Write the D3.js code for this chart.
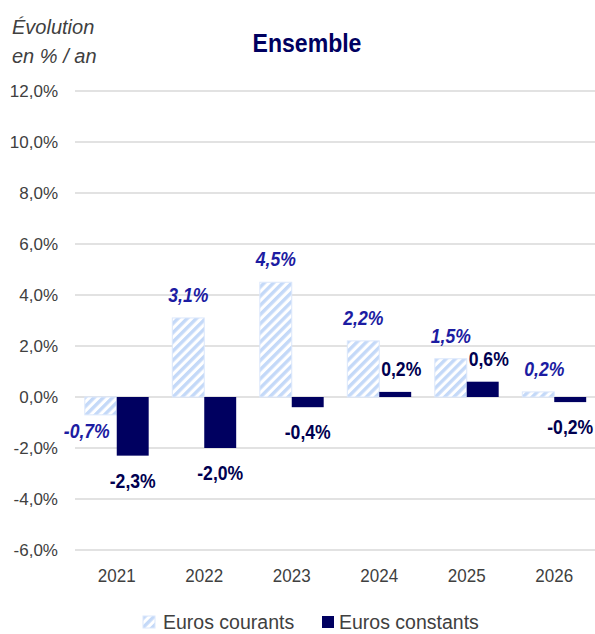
<!DOCTYPE html>
<html>
<head>
<meta charset="utf-8">
<script src="https://cdn.jsdelivr.net/npm/d3@7"></script>
<style>
  body { margin: 0; background: #fff; }
  .chart text { font-family: "Liberation Sans", Arial, sans-serif; }
</style>
</head>
<body>
<div class="chart"></div>
<script>
// chart data
var years = ["2021", "2022", "2023", "2024", "2025", "2026"];
var seriesNames = ["Euros courants", "Euros constants"];
var courants = [-0.7, 3.1, 4.5, 2.2, 1.5, 0.2];
var constants = [-2.3, -2.0, -0.4, 0.2, 0.6, -0.2];
var yTicks = [-6, -4, -2, 0, 2, 4, 6, 8, 10, 12];

var svgWidth = 595;
var svgHeight = 634;

var margin = { top: 91, right: 0, bottom: 84, left: 73 };
var height = svgHeight - margin.top - margin.bottom;

// no narrow font installed, so condensed text is squeezed horizontally
var narrow = 0.88;

function pct(v) {
  return d3.format(".1f")(v).replace(".", ",").replace("−", "-") + "%";
}

var svg = d3.select(".chart")
  .append("svg")
  .attr("width", svgWidth)
  .attr("height", svgHeight);

// hatch pattern for the "courants" series
var defs = svg.append("defs");
var pat = defs.append("pattern")
  .attr("id", "hatch")
  .attr("patternUnits", "userSpaceOnUse")
  .attr("width", 6.5)
  .attr("height", 6.5)
  .attr("patternTransform", "rotate(45)");
pat.append("rect").attr("width", 6.5).attr("height", 6.5).attr("fill", "#ffffff");
pat.append("rect").attr("width", 3.4).attr("height", 6.5).attr("fill", "#c4d9f8");

var x0 = d3.scaleBand()
  .domain(years)
  .range([margin.left, 598])
  .paddingInner(0.27)
  .paddingOuter(0.135);

var x1 = d3.scaleBand()
  .domain(seriesNames)
  .range([0, x0.bandwidth()]);

var y = d3.scaleLinear()
  .domain([-6, 12])
  .range([margin.top + height, margin.top]);

// grid lines
svg.append("g")
  .selectAll("line")
  .data(yTicks)
  .enter().append("line")
  .attr("x1", 75)
  .attr("x2", 595)
  .attr("y1", function (d) { return y(d); })
  .attr("y2", function (d) { return y(d); })
  .attr("stroke", "#d9d9d9")
  .attr("stroke-width", 1.5);

// y axis tick labels
var leftAxis = d3.axisLeft(y)
  .tickValues(yTicks)
  .tickSize(0)
  .tickPadding(0)
  .tickFormat(pct);

var yAxisG = svg.append("g")
  .attr("transform", "translate(58,0)")
  .call(leftAxis);
yAxisG.select(".domain").remove();
yAxisG.selectAll("text")
  .attr("font-size", 17)
  .attr("fill", "#404040")
  .attr("font-family", "Liberation Sans, Arial, sans-serif");

// x axis tick labels
var bottomAxis = d3.axisBottom(x0).tickSize(0).tickPadding(0);
var xAxisG = svg.append("g")
  .attr("transform", "translate(0,569)")
  .call(bottomAxis);
xAxisG.select(".domain").remove();
xAxisG.selectAll("text")
  .attr("font-size", 17)
  .attr("transform", "scale(1,1.1)")
  .attr("fill", "#404040")
  .attr("font-family", "Liberation Sans, Arial, sans-serif");

// bars
var rows = years.map(function (yr, i) {
  return { year: yr, values: [courants[i], constants[i]] };
});

function cells(d) {
  return d.values.map(function (v, j) { return { key: seriesNames[j], value: v, idx: j }; });
}

var groups = svg.append("g")
  .selectAll("g")
  .data(rows)
  .enter().append("g")
  .attr("transform", function (d) { return "translate(" + x0(d.year) + ",0)"; });

groups.selectAll("rect")
  .data(cells)
  .enter().append("rect")
  .attr("x", function (d) { return x1(d.key); })
  .attr("width", x1.bandwidth())
  .attr("y", function (d) { return y(Math.max(0, d.value)); })
  .attr("height", function (d) { return Math.abs(y(d.value) - y(0)); })
  .attr("fill", function (d) { return d.idx === 0 ? "url(#hatch)" : "#000060"; })
  .attr("stroke", function (d) { return d.idx === 0 ? "#dbe7fb" : "none"; })
  .attr("stroke-width", 1);

// value labels (small bars get their label nudged aside, like Excel does)
groups.selectAll("g.val")
  .data(cells)
  .enter().append("g")
  .attr("class", "val")
  .attr("transform", function (d) {
    var cx = x1(d.key) + x1.bandwidth() / 2;
    var cy;
    if (d.value >= 0) {
      cy = y(d.value) - 16;
      if (d.value < 1) cx += 6;
    } else if (d.idx === 0) {
      cy = y(d.value) + 23;
      cx -= 14;
    } else {
      cy = y(d.value) + 32;
    }
    return "translate(" + cx + "," + cy + ") scale(" + narrow + ",1)";
  })
  .append("text")
  .attr("text-anchor", "middle")
  .attr("font-size", 20)
  .attr("font-weight", "bold")
  .attr("font-style", function (d) { return d.idx === 0 ? "italic" : "normal"; })
  .attr("fill", function (d) { return d.idx === 0 ? "#1c1ca2" : "#000050"; })
  .text(function (d) { return pct(d.value); });

// title
svg.append("g")
  .attr("transform", "translate(307,52) scale(0.87,1)")
  .append("text")
  .attr("text-anchor", "middle")
  .attr("font-size", 26.5)
  .attr("font-weight", "bold")
  .attr("fill", "#000060")
  .text("Ensemble");

// y axis title
svg.append("text")
  .attr("x", 12)
  .attr("y", 34)
  .attr("font-size", 20)
  .attr("font-style", "italic")
  .attr("fill", "#404040")
  .text("Évolution");
svg.append("text")
  .attr("x", 12)
  .attr("y", 63)
  .attr("font-size", 20)
  .attr("font-style", "italic")
  .attr("fill", "#404040")
  .text("en % / an");

// legend
var legend = svg.append("g").attr("transform", "translate(143,616)");
var legendX = [0, 179];
seriesNames.forEach(function (name, i) {
  var g = legend.append("g").attr("transform", "translate(" + legendX[i] + ",0)");
  g.append("rect")
    .attr("width", 12)
    .attr("height", 12)
    .attr("fill", i === 0 ? "url(#hatch)" : "#000060")
    .attr("stroke", i === 0 ? "#dbe7fb" : "none");
  g.append("text")
    .attr("x", i === 0 ? 20 : 17)
    .attr("y", 13)
    .attr("font-size", 19.5)
    .attr("fill", "#404040")
    .text(name);
});
</script>
</body>
</html>
